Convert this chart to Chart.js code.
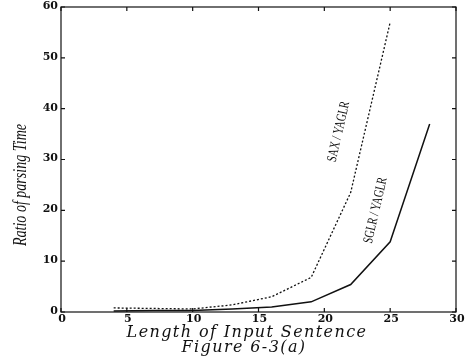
<!DOCTYPE html>
<html>
<head>
<meta charset="utf-8">
<script src="https://cdn.jsdelivr.net/npm/chart.js@4"></script>
<style>
  html, body { margin: 0; padding: 0; background: #fff; }
  #wrap { width: 466px; height: 357px; position: relative; }
</style>
</head>
<body>
<div id="wrap"><canvas id="chart"></canvas></div>
<script>
// values
const LENGTHS = [4, 7, 10, 13, 16, 19, 22, 25, 28];
const SAX_RATIO = [0.8, 0.7, 0.6, 1.4, 3.0, 6.8, 23.5, 57];
const SGLR_RATIO = [0.2, 0.3, 0.3, 0.6, 1.0, 2.0, 5.4, 13.8, 37];
const X_TICKS = [0, 5, 10, 15, 20, 25, 30];
const Y_TICKS = [0, 10, 20, 30, 40, 50, 60];

const pts = (ys) => ys.map((y, i) => ({ x: LENGTHS[i], y }));
const TICK_FONT = 'bold 11px "DejaVu Serif"';

// frame, inward ticks, titles and in-plot labels
const decor = {
  id: 'decor',
  afterDraw(chart) {
    const { ctx, chartArea: a, scales: { x, y } } = chart;
    ctx.save();
    ctx.strokeStyle = '#111'; ctx.lineWidth = 1.2;
    ctx.strokeRect(a.left, a.top, a.right - a.left, a.bottom - a.top);
    ctx.beginPath();
    X_TICKS.forEach(v => {
      const px = x.getPixelForValue(v);
      ctx.moveTo(px, a.bottom); ctx.lineTo(px, a.bottom - 4);
      ctx.moveTo(px, a.top); ctx.lineTo(px, a.top + 4);
    });
    Y_TICKS.forEach(v => {
      const py = y.getPixelForValue(v);
      ctx.moveTo(a.left, py); ctx.lineTo(a.left + 4, py);
      ctx.moveTo(a.right, py); ctx.lineTo(a.right - 4, py);
    });
    ctx.stroke();

    // tick labels
    ctx.fillStyle = '#111'; ctx.font = TICK_FONT;
    ctx.textAlign = 'center'; ctx.textBaseline = 'middle';
    X_TICKS.forEach(v => ctx.fillText(String(v), x.getPixelForValue(v) + 1, a.bottom + 7));
    ctx.textAlign = 'right';
    Y_TICKS.forEach(v => ctx.fillText(String(v), a.left - 3, y.getPixelForValue(v) - 1));

    // axis titles
    ctx.textAlign = 'center'; ctx.textBaseline = 'alphabetic';
    ctx.font = 'italic 16px "DejaVu Serif"';
    ctx.letterSpacing = '1.4px';
    ctx.fillText('Length of Input Sentence', 247, 337);
    ctx.fillText('Figure 6-3(a)', 244, 352);
    ctx.letterSpacing = '0px';

    ctx.save();
    ctx.translate(26, 185); ctx.rotate(-Math.PI / 2); ctx.scale(0.78, 1);
    ctx.font = 'italic 18px "Liberation Serif"';
    ctx.fillText('Ratio of parsing Time', 0, 0);
    ctx.restore();

    // series labels along the lines
    const lab = (t, xv, yv) => {
      ctx.save();
      ctx.translate(x.getPixelForValue(xv), y.getPixelForValue(yv));
      ctx.rotate(-77 * Math.PI / 180); ctx.scale(0.72, 1);
      ctx.font = '14px "Liberation Serif"';
      ctx.textAlign = 'center'; ctx.textBaseline = 'middle';
      ctx.fillText(t, 0, 0);
      ctx.restore();
    };
    lab('SAX / YAGLR', 21.1, 35.5);
    lab('SGLR / YAGLR', 23.9, 20);
    ctx.restore();
  }
};

new Chart(document.getElementById('chart'), {
  type: 'line',
  data: {
    datasets: [
      { label: 'SAX / YAGLR', data: pts(SAX_RATIO), borderColor: '#111', borderWidth: 1.3,
        borderDash: [2, 2], pointRadius: 0, tension: 0, fill: false },
      { label: 'SGLR / YAGLR', data: pts(SGLR_RATIO), borderColor: '#111', borderWidth: 1.5,
        pointRadius: 0, tension: 0, fill: false },
    ],
  },
  options: {
    responsive: true, maintainAspectRatio: false, animation: false,
    layout: { padding: { top: 7, right: 10, left: 0, bottom: 0 } },
    plugins: { legend: { display: false }, tooltip: { enabled: false } },
    scales: {
      x: { type: 'linear', min: 0, max: 30,
        grid: { display: false }, border: { display: false },
        ticks: { display: false },
        afterFit: (s) => { s.height = 45; } },
      y: { min: 0, max: 60,
        grid: { display: false }, border: { display: false },
        ticks: { display: false },
        afterFit: (s) => { s.width = 61; } },
    },
  },
  plugins: [decor],
});
</script>
</body>
</html>
